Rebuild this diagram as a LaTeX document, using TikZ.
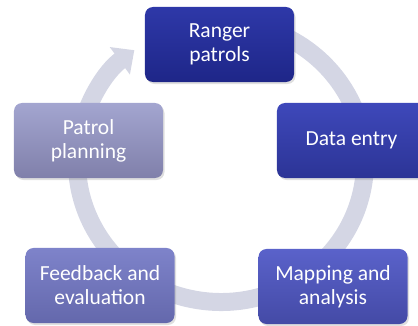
\documentclass[tikz,border=0pt]{standalone}
\usepackage{fontspec}
\setmainfont{Carlito}
\usepackage{tikz}
\usetikzlibrary{
    arrows.meta,
    shadows,
    positioning
}
\definecolor{ringgray}{RGB}{212,214,228}
\tikzset{stage/.style={rectangle, rounded corners=8bp, minimum width=149bp, minimum height=75bp,
    inner sep=0pt, align=center, text=white, font=\fontsize{21.5bp}{24bp}\selectfont,
    drop shadow={opacity=0.25, shadow xshift=1.5bp, shadow yshift=-2bp}}}
\tikzset{ring/.style={draw=ringgray, line width=18bp, -{Triangle[width=33bp, length=18bp]}}}

\begin{document}
\begin{tikzpicture}[x=1bp, y=1bp]
                        \useasboundingbox (0, 0) rectangle (418, 326);

                        \draw[ring] (221, 164) ++(80:144 and 140) arc[start angle=80, end angle=-233, x radius=144, y radius=140];

                        \node[stage, top color={rgb,255:red,46;green,56;blue,168}, bottom color={rgb,255:red,30;green,38;blue,136}]
                            (ranger) at (219.5, 281.5) {Ranger\\patrols};
                        \node[stage, top color={rgb,255:red,62;green,72;blue,186}, bottom color={rgb,255:red,44;green,52;blue,150}]
                            (entry) at (351.5, 185.5) {Data entry};
                        \node[stage, top color={rgb,255:red,90;green,98;blue,202}, bottom color={rgb,255:red,68;green,74;blue,166}]
                            (mapping) at (333, 39.5) {Mapping and\\analysis};
                        \node[stage, top color={rgb,255:red,126;green,131;blue,202}, bottom color={rgb,255:red,100;green,104;blue,172}]
                            (feedback) at (100, 40.5) {Feedback and\\evaluation};
                        \node[stage, top color={rgb,255:red,163;green,165;blue,208}, bottom color={rgb,255:red,128;green,128;blue,170}]
                            (planning) at (88.5, 185.5) {Patrol\\planning};
                    \end{tikzpicture}
\end{document}
